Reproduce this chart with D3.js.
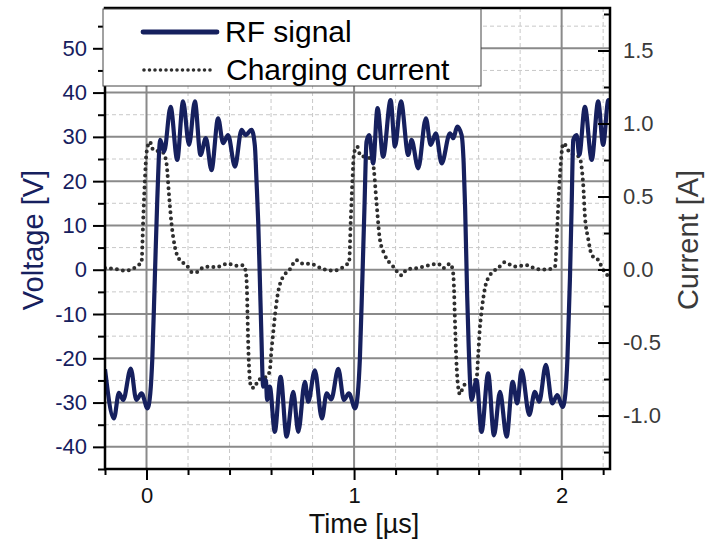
<!DOCTYPE html>
<html>
<head>
<meta charset="utf-8">
<script src="https://cdn.jsdelivr.net/npm/d3@7"></script>
<style>
  body { margin: 0; background: #fff; }
  svg  { font-family: "Liberation Sans", Arial, sans-serif; }
</style>
</head>
<body>
<svg id="chart" width="706" height="539"></svg>
<script>
// RF signal, time [us] and voltage [V]
const rfTime = [
  -0.2, -0.157, -0.133, -0.112, -0.076, -0.049, -0.024, 0.005,
  0.018, 0.028, 0.04, 0.052, 0.066, 0.085, 0.116, 0.148, 0.176, 0.205, 0.233, 0.26,
  0.286, 0.313, 0.345, 0.369, 0.393, 0.426, 0.458, 0.477, 0.506, 0.522, 0.53, 0.538,
  0.546, 0.553, 0.562, 0.575, 0.581, 0.594, 0.618, 0.646, 0.675, 0.707, 0.731, 0.763,
  0.779, 0.811, 0.845, 0.868, 0.89, 0.924, 0.951, 0.975, 1.005,
  1.018, 1.028, 1.04, 1.05, 1.06, 1.073, 1.092, 1.113, 1.14, 1.176, 1.197, 1.226,
  1.261, 1.277, 1.309, 1.346, 1.369, 1.394, 1.422, 1.462, 1.478, 1.497, 1.518, 1.528,
  1.535, 1.545, 1.552, 1.566, 1.59, 1.614, 1.646, 1.674, 1.703, 1.735, 1.764, 1.786,
  1.807, 1.844, 1.871, 1.892, 1.924, 1.955, 1.979, 2.005,
  2.018, 2.028, 2.04, 2.048, 2.056, 2.072, 2.085, 2.112, 2.145, 2.176, 2.2, 2.225, 2.233
];
const rfVolt = [
  -22.5, -33.6, -27.8, -29.4, -22.3, -29.4, -27.9, -31.3,
  -28, -20, -2, 16, 29.3, 26.7, 36.8, 24.8, 38, 28.2, 38, 25.9,
  29.7, 22.5, 34.2, 28.6, 30.4, 23.3, 31.6, 30.4, 31.6, 28, 20, 11,
  -2, -14, -26.4, -24.9, -29.4, -26.4, -36.6, -24.2, -37.7, -27.6, -36.6, -25.3,
  -29.8, -22.7, -33.6, -27.9, -29.3, -22.4, -29.4, -27.9, -31.3,
  -28, -20, -2, 14, 28.9, 30.4, 24, 36.5, 25.5, 38.3, 27.8, 38,
  25.9, 29.3, 22.9, 34.2, 28.2, 30.8, 24, 30.8, 29.7, 32.3, 30.4, 24,
  14, -6, -17, -29.4, -24.9, -36.6, -23.4, -37.4, -27.6, -37.7, -25.3, -30.2,
  -22.7, -32.8, -27.6, -29.8, -21.5, -30.2, -28.3, -31,
  -28, -20, -2, 14, 29.3, 30.4, 25.9, 36.8, 24.8, 38, 28.2, 38.3, 37
];

// Charging current, time [us] and current [A]
const curTime = [
  -0.2, -0.15, -0.1, -0.06, -0.04, -0.024, -0.016, -0.008, 0, 0.016, 0.032, 0.056,
  0.08, 0.096, 0.109, 0.12, 0.136, 0.16, 0.193, 0.222, 0.249, 0.273, 0.305, 0.337,
  0.365, 0.393, 0.426, 0.466, 0.479, 0.484, 0.488, 0.492, 0.498, 0.506, 0.522, 0.533,
  0.554, 0.581, 0.594, 0.602, 0.61, 0.62, 0.632, 0.645, 0.658, 0.69, 0.722, 0.754,
  0.787, 0.85, 0.9, 0.94, 0.96, 0.976, 0.984, 0.992, 1.0, 1.016, 1.03, 1.056,
  1.08, 1.092, 1.108, 1.124, 1.148, 1.189, 1.229, 1.253, 1.301, 1.365, 1.405, 1.43,
  1.462, 1.475, 1.48, 1.486, 1.492, 1.502, 1.51, 1.526, 1.542, 1.566, 1.59, 1.598,
  1.606, 1.614, 1.63, 1.654, 1.694, 1.727, 1.743, 1.775, 1.831, 1.88, 1.928, 1.968,
  1.976, 1.984, 1.992, 2.0, 2.008, 2.04, 2.085, 2.104, 2.112, 2.128, 2.145, 2.176,
  2.2, 2.225, 2.233
];
const curAmp = [
  0.01, 0.003, -0.008, 0.01, 0.03, 0.05, 0.34, 0.61, 0.8, 0.875, 0.82, 0.81,
  0.8, 0.73, 0.5, 0.32, 0.16, 0.065, 0.03, -0.02, -0.015, 0.015, 0.02, 0.015,
  0.03, 0.04, 0.025, 0.03, -0.02, -0.15, -0.4, -0.6, -0.757, -0.81, -0.81, -0.77,
  -0.745, -0.734, -0.69, -0.55, -0.44, -0.3, -0.17, -0.09, -0.05, 0, 0.065, 0.04,
  0.04, 0.003, -0.008, 0.01, 0.03, 0.05, 0.34, 0.61, 0.8, 0.84, 0.78, 0.77,
  0.76, 0.72, 0.46, 0.21, 0.1, 0.02, -0.04, 0, 0.01, 0.03, 0.04, 0.01,
  0.04, 0, -0.08, -0.35, -0.6, -0.81, -0.855, -0.8, -0.78, -0.77, -0.745, -0.585,
  -0.4, -0.29, -0.13, -0.04, 0.01, 0.05, 0.04, 0.02, 0.03, 0.003, 0, 0.02,
  0.2, 0.45, 0.65, 0.8, 0.865, 0.8, 0.77, 0.58, 0.37, 0.21, 0.1, 0.065,
  0, -0.04, -0.04
];

// Tick values
const xMajor = [0, 1, 2];
const xMinor = [-0.2, 0.2, 0.4, 0.6, 0.8, 1.2, 1.4, 1.6, 1.8, 2.2];
const vMajor = [-40, -30, -20, -10, 0, 10, 20, 30, 40, 50];
const vMinor = [-45, -35, -25, -15, -5, 5, 15, 25, 35, 45, 55];
const iMajor = [-1.0, -0.5, 0.0, 0.5, 1.0, 1.5];
const iMinor = [-1.25, -0.75, -0.25, 0.25, 0.75, 1.25, 1.75];

const navy = '#16205e';
const pL = 105, pR = 610, pT = 8, pB = 469;

const svg = d3.select('#chart');

const x  = d3.scaleLinear().domain([-0.2, 2.233]).range([pL, pR]);
const yV = d3.scaleLinear().domain([-45, 59.1]).range([pB, pT]);
const yI = d3.scaleLinear().domain([-1.366, 1.791]).range([pB, pT]);

// clip for the curves
svg.append('clipPath').attr('id', 'plot-clip')
   .append('rect').attr('x', pL).attr('y', pT)
   .attr('width', pR - pL).attr('height', pB - pT);

// grid
const grid = svg.append('g');
grid.selectAll('.vminor').data(vMinor.filter(d => d > -45)).enter().append('line')
    .attr('x1', pL).attr('x2', pR).attr('y1', d => yV(d)).attr('y2', d => yV(d))
    .attr('stroke', '#c8c8c8').attr('stroke-width', 1).attr('stroke-dasharray', '4,3');
grid.selectAll('.xminor').data(xMinor.filter(d => d > -0.2)).enter().append('line')
    .attr('y1', pT).attr('y2', pB).attr('x1', d => x(d)).attr('x2', d => x(d))
    .attr('stroke', '#c8c8c8').attr('stroke-width', 1).attr('stroke-dasharray', '4,3');
grid.selectAll('.vmajor').data(vMajor).enter().append('line')
    .attr('x1', pL).attr('x2', pR).attr('y1', d => yV(d)).attr('y2', d => yV(d))
    .attr('stroke', '#8a8a8a').attr('stroke-width', 2);
grid.selectAll('.xmajor').data(xMajor).enter().append('line')
    .attr('y1', pT).attr('y2', pB).attr('x1', d => x(d)).attr('x2', d => x(d))
    .attr('stroke', '#8a8a8a').attr('stroke-width', 2);

// curves
const plot = svg.append('g').attr('clip-path', 'url(#plot-clip)');

const curLine = d3.line().x(d => x(d[0])).y(d => yI(d[1])).curve(d3.curveMonotoneX);
plot.append('path').datum(d3.zip(curTime, curAmp))
    .attr('d', curLine).attr('fill', 'none')
    .attr('stroke', '#2e2e2e').attr('stroke-width', 4)
    .attr('stroke-linecap', 'round').attr('stroke-dasharray', '0,6');

const rfLine = d3.line().x(d => x(d[0])).y(d => yV(d[1])).curve(d3.curveMonotoneX);
plot.append('path').datum(d3.zip(rfTime, rfVolt))
    .attr('d', rfLine).attr('fill', 'none')
    .attr('stroke', navy).attr('stroke-width', 4.2).attr('stroke-linejoin', 'round');

// axes (plain hyphen for negative labels, as in the original)
const fmtInt = d => String(d);
const fmtOne = d => d.toFixed(1);

function styleAxis(g, color) {
  g.select('.domain').remove();
  g.selectAll('line').attr('stroke', '#000').attr('stroke-width', 2);
  g.selectAll('text').attr('font-size', 22).attr('fill', color)
   .attr('font-family', '"Liberation Sans", Arial, sans-serif');
}

svg.append('g').attr('transform', `translate(${pL},0)`)
   .call(d3.axisLeft(yV).tickValues(vMinor).tickSize(7).tickFormat(''))
   .call(g => styleAxis(g, navy));
svg.append('g').attr('transform', `translate(${pL},0)`)
   .call(d3.axisLeft(yV).tickValues(vMajor).tickSize(12).tickPadding(6).tickFormat(fmtInt))
   .call(g => styleAxis(g, navy));

svg.append('g').attr('transform', `translate(0,${pB})`)
   .call(d3.axisBottom(x).tickValues(xMinor).tickSize(6).tickFormat(''))
   .call(g => styleAxis(g, '#000'));
svg.append('g').attr('transform', `translate(0,${pB})`)
   .call(d3.axisBottom(x).tickValues(xMajor).tickSize(11).tickPadding(7).tickFormat(fmtInt))
   .call(g => styleAxis(g, '#111'));

svg.append('g').attr('transform', `translate(${pR},0)`)
   .call(d3.axisRight(yI).tickValues(iMinor).tickSizeInner(-6).tickSizeOuter(0).tickFormat(''))
   .call(g => styleAxis(g, '#3a3a3a'));
svg.append('g').attr('transform', `translate(${pR},0)`)
   .call(d3.axisRight(yI).tickValues(iMajor).tickSizeInner(-12).tickSizeOuter(0).tickPadding(13)
         .tickFormat(fmtOne))
   .call(g => styleAxis(g, '#3a3a3a'));

// frame
svg.append('rect').attr('x', pL).attr('y', pT)
   .attr('width', pR - pL).attr('height', pB - pT)
   .attr('fill', 'none').attr('stroke', '#000').attr('stroke-width', 2.5);

// axis titles
svg.append('text').attr('x', 364).attr('y', 533).attr('text-anchor', 'middle')
   .attr('font-size', 27).attr('fill', '#111').text('Time [µs]');
svg.append('text').attr('transform', 'translate(43,240) rotate(-90)').attr('text-anchor', 'middle')
   .attr('font-size', 29).attr('fill', navy).text('Voltage [V]');
svg.append('text').attr('transform', 'translate(698,240) rotate(-90)').attr('text-anchor', 'middle')
   .attr('font-size', 29).attr('fill', '#3a3a3a').text('Current [A]');

// legend
const lg = svg.append('g');
lg.append('rect').attr('x', 103).attr('y', 9).attr('width', 378).attr('height', 77)
  .attr('fill', '#fff').attr('stroke', '#444').attr('stroke-width', 1);
lg.append('line').attr('x1', 143).attr('x2', 217).attr('y1', 32).attr('y2', 32)
  .attr('stroke', navy).attr('stroke-width', 4.8).attr('stroke-linecap', 'round');
lg.append('line').attr('x1', 144).attr('x2', 213).attr('y1', 70).attr('y2', 70)
  .attr('stroke', '#2e2e2e').attr('stroke-width', 3.6).attr('stroke-linecap', 'round')
  .attr('stroke-dasharray', '0,5.5');
lg.append('text').attr('x', 225).attr('y', 42).attr('font-size', 30).attr('fill', '#000').text('RF signal');
lg.append('text').attr('x', 226).attr('y', 80).attr('font-size', 30).attr('fill', '#000').text('Charging current');
</script>
</body>
</html>
